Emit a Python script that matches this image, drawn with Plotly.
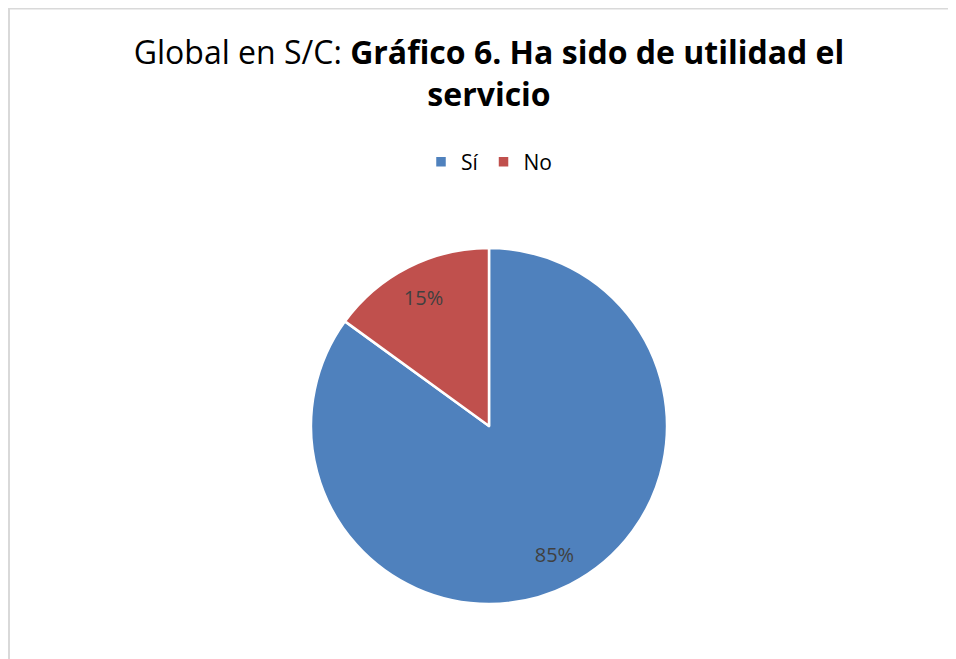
import plotly.graph_objects as go

labels = ["Sí", "No"]
values = [85, 15]
colors = ["#4F81BD", "#C0504D"]

W, H = 948, 651
cx, cy, r = 481, 418, 178
dom = dict(x=[(cx - r) / W, (cx + r) / W], y=[1 - (cy + r) / H, 1 - (cy - r) / H])

fig = go.Figure()
fig.add_trace(go.Pie(
    labels=labels,
    values=values,
    sort=False,
    direction="clockwise",
    rotation=0,
    marker=dict(colors=colors, line=dict(color="white", width=2.5)),
    textinfo="none",
    domain=dom,
    hoverinfo="label+percent",
))
# transparent ring used only to place the percentage labels near the rim
fig.add_trace(go.Pie(
    labels=labels,
    values=values,
    sort=False,
    direction="clockwise",
    rotation=0,
    hole=0.62,
    marker=dict(colors=["rgba(0,0,0,0)"] * len(values), line=dict(width=0)),
    texttemplate="%{percent:.0%}",
    textposition="inside",
    insidetextorientation="horizontal",
    textfont=dict(family="Open Sans", size=20, color="#404040"),
    domain=dom,
    showlegend=False,
    hoverinfo="skip",
))

fig.update_layout(
    width=W, height=H,
    margin=dict(l=0, r=0, t=0, b=0),
    paper_bgcolor="white",
    plot_bgcolor="white",
    font=dict(family="Open Sans", color="#000000"),
    title=dict(
        text="Global en S/C: <b>Gráfico 6. Ha sido de utilidad el</b><br><b>servicio</b>",
        x=481 / W, xanchor="center",
        y=1 - 56 / H, yanchor="top",
        xref="container", yref="container",
        font=dict(family="Open Sans", size=32, color="#000000"),
    ),
    legend=dict(
        orientation="h",
        x=481 / W, xanchor="center",
        y=1 - 154 / H, yanchor="middle",
        font=dict(family="Open Sans", size=21, color="#000000"),
        itemwidth=30,
    ),
    shapes=[
        dict(type="line", xref="paper", yref="paper", x0=0, x1=1, y0=1 - 0.5 / H, y1=1 - 0.5 / H,
             line=dict(color="#D9D9D9", width=2)),
        dict(type="line", xref="paper", yref="paper", x0=1 / W, x1=1 / W, y0=0, y1=1,
             line=dict(color="#D9D9D9", width=2)),
    ],
)

fig.write_html("out.html")
